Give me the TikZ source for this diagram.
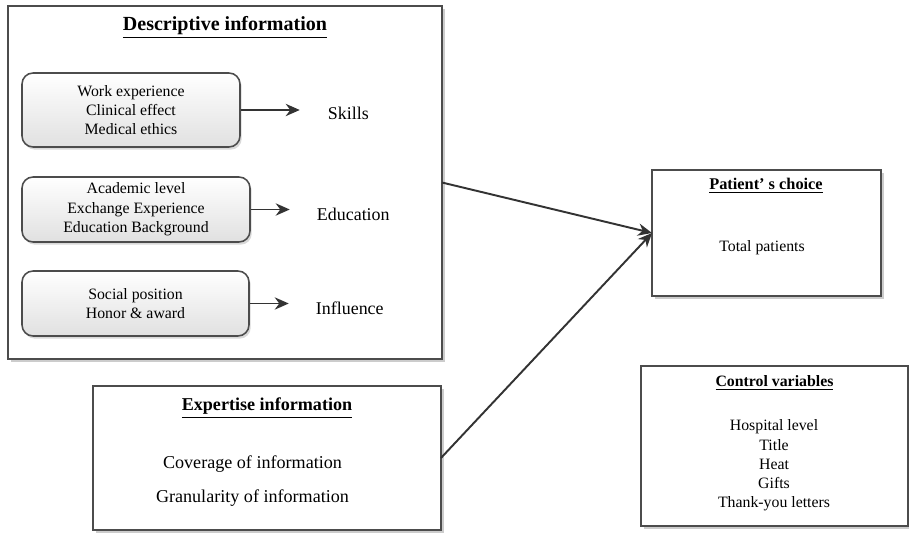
\documentclass[tikz,border=0pt]{standalone}
\usepackage{fontspec}
\setmainfont{Liberation Serif}
\usetikzlibrary{arrows.meta}
\usetikzlibrary{positioning}
\usetikzlibrary{shadows}

\begin{document}
\begin{tikzpicture}[x=0.02cm, y=-0.02cm,
      panel/.style={rectangle, draw=black!70, line width=1.1pt, fill=white, outer sep=0pt,
        drop shadow={shadow xshift=1.5pt, shadow yshift=-1.5pt, fill=black, opacity=0.2}},
      item/.style={rectangle, rounded corners=0.22cm, draw=black!70, line width=0.9pt,
        top color=white, bottom color=black!12, align=center, font=\fontsize{9}{11}\selectfont,
        drop shadow={shadow xshift=1pt, shadow yshift=-1.5pt, fill=black, opacity=0.15}},
      factor/.style={font=\fontsize{10.2}{12}\selectfont, yshift=-0.09cm},
      heading/.style={font=\bfseries\fontsize{9.3}{11}\selectfont},
      entry/.style={align=center, font=\fontsize{9}{10.9}\selectfont},
      arrow/.style={-{Stealth[length=8pt, width=7pt]}, line width=1.1pt, draw=black!80}
      ]

      \useasboundingbox (0,0) rectangle (909,533);

      % Panels
      \node[panel, minimum width=8.68cm, minimum height=7.06cm] (desc) at (225,182.5) {};
      \node[panel, minimum width=4.58cm, minimum height=2.52cm] (patient) at (766.5,233) {};
      \node[panel, minimum width=6.96cm, minimum height=2.88cm] (expert) at (267,458) {};
      \node[panel, minimum width=5.34cm, minimum height=3.2cm] (control) at (774.5,446) {};

      % Headings
      \node[heading, font=\bfseries\fontsize{11.4}{13}\selectfont] (desc-title) at (225,27) {\underline{Descriptive information}};
      \node[heading] (patient-title) at (766,186) {\underline{Patient’ s choice}};
      \node[heading, font=\bfseries\fontsize{10.3}{12}\selectfont] (expert-title) at (267,408) {\underline{Expertise information}};
      \node[heading, font=\bfseries\fontsize{9}{11}\selectfont] (control-title) at (774.5,383) {\underline{Control variables}};

      % Items and factors
      \node[item, minimum width=4.36cm, minimum height=1.48cm] (skills-items) at (131,110)
        {Work experience\\Clinical effect\\Medical ethics};
      \node[factor, right=1.62cm of skills-items, yshift=0.03cm] (skills) {Skills};

      \node[item, minimum width=4.56cm, minimum height=1.3cm] (edu-items) at (136,209.5)
        {Academic level\\Exchange Experience\\Education Background};
      \node[factor, right=1.2cm of edu-items] (edu) {Education};

      \node[item, minimum width=4.54cm, minimum height=1.3cm] (infl-items) at (135.5,303.5)
        {Social position\\Honor \& award};
      \node[factor, right=1.2cm of infl-items] (infl) {Influence};

      % Panel contents
      \node[entry] (patients) at (762,248) {Total patients};
      \node[entry, font=\fontsize{10.3}{12}\selectfont] (coverage) at (252.5,464) {Coverage of information};
      \node[entry, font=\fontsize{10.3}{12}\selectfont] (granularity) at (252.5,498) {Granularity of information};
      \node[entry] (controls) at (774,465.5)
        {Hospital level\\Title\\Heat\\Gifts\\Thank-you letters};

      % Arrows
      \draw[arrow, shorten >=0.44cm] (skills-items.east) -- (skills.west |- skills-items.east);
      \draw[arrow, shorten >=0.42cm] (edu-items.east) -- (edu.west |- edu-items.east);
      \draw[arrow, shorten >=0.42cm] (infl-items.east) -- (infl.west |- infl-items.east);
      \draw[arrow] (desc.east) -- (patient.west);
      \draw[arrow] (expert.east) -- (patient.west);

    \end{tikzpicture}
\end{document}
